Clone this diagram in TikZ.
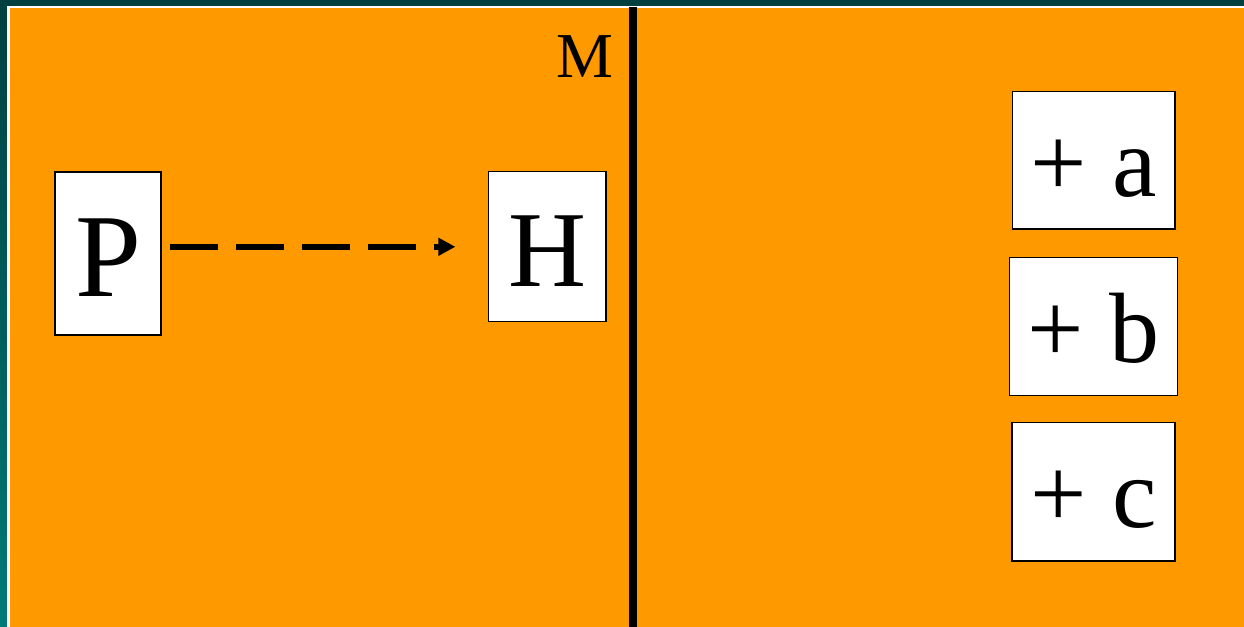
\documentclass[tikz,border=0pt]{standalone}
\usepackage{fontspec}
\setmainfont{Liberation Serif}
\usetikzlibrary{arrows.meta}
\definecolor{bgorange}{HTML}{FF9900}
\definecolor{darkteal}{HTML}{004040}
\definecolor{lightteal}{HTML}{007A78}
\tikzset{
  card/.style={draw=black, line width=1pt, fill=white, inner sep=0pt, text depth=0pt},
  bigletter/.style={card, font=\fontsize{#1}{#1}\selectfont},
  plusbox/.style={card, font=\fontsize{75pt}{75pt}\selectfont, text height=54pt},
  dasharrow/.style={line width=4.9pt, dash pattern=on 36pt off 13.5pt,
    -{Triangle[length=12.75pt,width=12.75pt]}}
}
\begin{document}
\begin{tikzpicture}[x=0.75pt,y=-0.75pt]
\useasboundingbox (0,0) rectangle (1244,627);
% frame and background
\fill[darkteal] (0,0) rectangle (1244,6);
\shade[top color=darkteal, bottom color=lightteal, shading angle=0] (0,0) rectangle (7,627);
\fill[white] (7,6) rectangle (1244,627);
\fill[bgorange] (10,8) rectangle (1244,627);
% mirror line
\coordinate (mtop) at (633,7);
\coordinate (mbot) at (633,627);
\draw[line width=5.6pt] (mtop) -- (mbot);
\node[anchor=base, font=\fontsize{48pt}{48pt}\selectfont, inner sep=0pt] (M) at (584.5,78) {M};
% P and H
\node[bigletter=89pt, text height=65pt, minimum width=79.5pt, minimum height=122.25pt] (P) at (108,253.5) {P};
\node[bigletter=81pt, text height=59pt, minimum width=88.3pt, minimum height=112.5pt] (H) at (547.2,246.8) {H};
\draw[dasharrow, shorten <=6pt, shorten >=24.2pt] (P.east |- H.center) -- (H.west);
% right column
\node[plusbox, minimum width=122pt, minimum height=103pt] (a) at (1093.6,160.4) {+ a};
\node[plusbox, minimum width=126.3pt, minimum height=103.8pt] (b) at (1093.5,326.5) {+ b};
\node[plusbox, minimum width=122.25pt, minimum height=104pt] (c) at (1093.5,491.7) {+ c};
\end{tikzpicture}
\end{document}
